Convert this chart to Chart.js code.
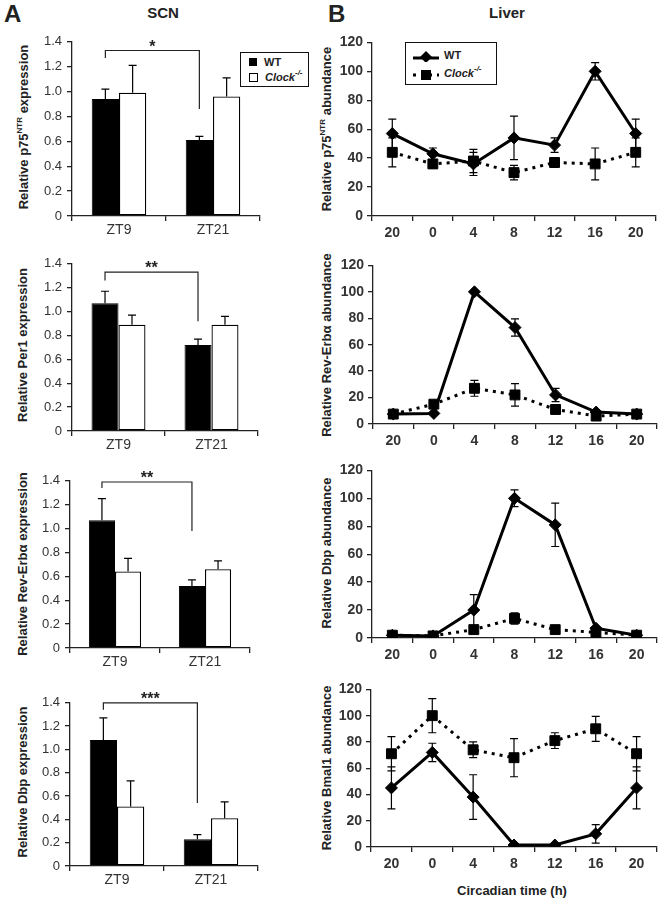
<!DOCTYPE html>
<html>
<head>
<meta charset="utf-8">
<script src="https://cdn.jsdelivr.net/npm/chart.js@4/dist/chart.umd.min.js"></script>
<style>
  html,body{margin:0;padding:0;background:#fff;}
  #fig{position:relative;width:665px;height:899px;background:#fff;overflow:hidden;
       font-family:"Liberation Sans",Arial,sans-serif;color:#222;}
  .box{position:absolute;}
  .txt{position:absolute;white-space:nowrap;font-weight:bold;}
  .ytitle{position:absolute;white-space:nowrap;font-weight:bold;font-size:13px;
          transform:translate(-50%,-50%) rotate(-90deg);}
  .ytitle sup,.leg sup{font-size:8px;vertical-align:6px;line-height:0;}
  .leg{position:absolute;border:1px solid #111;background:#fff;font-weight:bold;font-size:11px;}
  .row{position:absolute;display:flex;align-items:center;white-space:nowrap;}
</style>
</head>
<body>
<div id="fig">
  <div class="txt" style="left:4px;top:0px;font-size:24px;">A</div>
  <div class="txt" style="left:328px;top:0px;font-size:24px;">B</div>
  <div class="txt" style="left:163px;top:12px;font-size:15px;transform:translate(-50%,-50%);">SCN</div>
  <div class="txt" style="left:507px;top:12px;font-size:15px;transform:translate(-50%,-50%);">Liver</div>

  <div class="ytitle" style="left:23px;top:127px;">Relative p75<sup>NTR</sup> expression</div>
  <div class="ytitle" style="left:22px;top:345px;">Relative Per1 expression</div>
  <div class="ytitle" style="left:22px;top:564px;">Relative Rev-Erbα expression</div>
  <div class="ytitle" style="left:22px;top:782px;">Relative Dbp expression</div>
  <div class="ytitle" style="left:326px;top:129px;">Relative p75<sup>NTR</sup> abundance</div>
  <div class="ytitle" style="left:326px;top:345px;">Relative Rev-Erbα abundance</div>
  <div class="ytitle" style="left:326px;top:553px;">Relative Dbp abundance</div>
  <div class="ytitle" style="left:326px;top:768px;">Relative Bmal1 abundance</div>
  <div class="txt" style="left:512px;top:890px;font-size:13px;transform:translate(-50%,-50%);">Circadian time (h)</div>

  <div class="box" id="a1"><canvas></canvas></div>
  <div class="box" id="a2"><canvas></canvas></div>
  <div class="box" id="a3"><canvas></canvas></div>
  <div class="box" id="a4"><canvas></canvas></div>
  <div class="box" id="b1"><canvas></canvas></div>
  <div class="box" id="b2"><canvas></canvas></div>
  <div class="box" id="b3"><canvas></canvas></div>
  <div class="box" id="b4"><canvas></canvas></div>

  <div class="leg" style="left:240px;top:52px;width:67px;height:33px;">
    <div class="row" style="left:8px;top:3px;"><span style="display:inline-block;width:8px;height:8px;background:#000;margin-right:7px;"></span>WT</div>
    <div class="row" style="left:8px;top:18px;"><span style="display:inline-block;width:7px;height:7px;border:1px solid #000;background:#fff;margin-right:7px;"></span><i>Clock<sup>-/-</sup></i></div>
  </div>
  <div class="leg" style="left:405px;top:42px;width:90px;height:41px;">
    <div class="row" style="left:6px;top:5px;"><svg width="28" height="14" style="margin-right:4px"><line x1="1" y1="10" x2="27" y2="10" stroke="#000" stroke-width="3"/><polygon points="14,3 20,9 14,15 8,9" fill="#000"/></svg>WT</div>
    <div class="row" style="left:6px;top:23px;"><svg width="28" height="14" style="margin-right:4px"><line x1="1" y1="9" x2="27" y2="9" stroke="#000" stroke-width="3" stroke-dasharray="3,5"/><rect x="9" y="4" width="10" height="10" fill="#000"/></svg><i>Clock<sup>-/-</sup></i></div>
  </div>
</div>

<script>
// ---------- DATA ----------
const scnCategories = ['ZT9', 'ZT21'];
const scnYTicks = [0, 0.2, 0.4, 0.6, 0.8, 1, 1.2, 1.4];
const liverTimes = ['20', '0', '4', '8', '12', '16', '20'];
const liverYTicks = [0, 20, 40, 60, 80, 100, 120];

// SCN p75NTR
const scnP75WT = [0.94, 0.61];
const scnP75WTErr = [0.08, 0.03];
const scnP75KO = [0.99, 0.96];
const scnP75KOErr = [0.22, 0.15];
// SCN Per1
const scnPer1WT = [1.07, 0.72];
const scnPer1WTErr = [0.10, 0.05];
const scnPer1KO = [0.89, 0.89];
const scnPer1KOErr = [0.08, 0.07];
// SCN Rev-Erb alpha
const scnRevWT = [1.07, 0.52];
const scnRevWTErr = [0.18, 0.05];
const scnRevKO = [0.64, 0.66];
const scnRevKOErr = [0.11, 0.07];
// SCN Dbp
const scnDbpWT = [1.08, 0.23];
const scnDbpWTErr = [0.19, 0.04];
const scnDbpKO = [0.51, 0.41];
const scnDbpKOErr = [0.22, 0.14];

// significance brackets: [label, bracket level, left drop end, right drop end]
const sigLabels = ['*', '**', '**', '***'];
const sigLevel = [1.33, 1.33, 1.39, 1.40];
const sigLeftEnd = [1.27, 1.26, 1.34, 1.34];
const sigRightEnd = [0.86, 0.92, 0.98, 0.54];

// Liver p75NTR
const livP75WT = [57, 43, 36, 54, 49, 100, 57];
const livP75WTErr = [10, 4, 8, 15, 5, 6, 10];
const livP75KO = [44, 36, 38, 30, 37, 36, 44];
const livP75KOErr = [10, 3, 8, 5, 3, 11, 10];
// Liver Rev-Erb alpha
const livRevWT = [7.5, 8, 100, 73, 22, 9, 7.5];
const livRevWTErr = [1, 1, 1, 6.5, 5, 1, 1];
const livRevKO = [7.5, 15, 27, 22, 11, 6, 7.5];
const livRevKOErr = [1, 1, 6, 8.5, 2, 1, 1];
// Liver Dbp
const livDbpWT = [2, 1.5, 20, 100, 81, 7, 2];
const livDbpWTErr = [0.5, 0.5, 11, 6, 15.5, 1, 0.5];
const livDbpKO = [2, 1.5, 6, 14, 6, 4, 2];
const livDbpKOErr = [0.5, 0.5, 1, 4, 1, 1, 0.5];
// Liver Bmal1
const livBmalWT = [45, 72, 38, 1.5, 1.5, 10, 45];
const livBmalWTErr = [16, 7, 17, 0.5, 0.5, 7, 16];
const livBmalKO = [71, 100, 74, 68, 81, 90, 71];
const livBmalKOErr = [13, 13, 6, 14.5, 6, 9.5, 13];

// ---------- PLUGINS ----------
const errorBarsPlugin = {
  id: 'errorBars',
  afterDatasetsDraw(chart) {
    const ctx = chart.ctx, y = chart.scales.y;
    ctx.save();
    ctx.strokeStyle = '#000';
    ctx.lineWidth = 1.2;
    chart.data.datasets.forEach((ds, i) => {
      if (!ds.errors) return;
      const meta = chart.getDatasetMeta(i);
      const cap = ds.errorCap || 4;
      meta.data.forEach((el, j) => {
        const v = ds.data[j], e = ds.errors[j];
        if (!e) return;
        const x = el.x;
        const yt = y.getPixelForValue(v + e);
        const yb = ds.errorUpOnly ? y.getPixelForValue(v) : y.getPixelForValue(Math.max(0, v - e));
        ctx.beginPath();
        ctx.moveTo(x, yb); ctx.lineTo(x, yt);
        ctx.moveTo(x - cap, yt); ctx.lineTo(x + cap, yt);
        if (!ds.errorUpOnly) { ctx.moveTo(x - cap, yb); ctx.lineTo(x + cap, yb); }
        ctx.stroke();
      });
    });
    ctx.restore();
  }
};

const sigPlugin = {
  id: 'sigBracket',
  afterDatasetsDraw(chart, args, opts) {
    if (!opts || opts.label == null) return;
    const ctx = chart.ctx, y = chart.scales.y;
    const meta = chart.getDatasetMeta(0);
    const x1 = meta.data[0].x, x2 = meta.data[1].x;
    const yl = y.getPixelForValue(opts.level);
    ctx.save();
    ctx.strokeStyle = '#222';
    ctx.lineWidth = 1.2;
    ctx.beginPath();
    ctx.moveTo(x1, y.getPixelForValue(opts.leftEnd));
    ctx.lineTo(x1, yl);
    ctx.lineTo(x2, yl);
    ctx.lineTo(x2, y.getPixelForValue(opts.rightEnd));
    ctx.stroke();
    ctx.fillStyle = '#222';
    ctx.font = 'bold 16px "Liberation Sans", Arial, sans-serif';
    ctx.textAlign = 'center';
    ctx.textBaseline = 'alphabetic';
    ctx.fillText(opts.label, (x1 + x2) / 2, yl + 1);
    ctx.restore();
  }
};

// ---------- LAYOUT HELPERS ----------
const FONT = '"Liberation Sans", Arial, sans-serif';
function place(id, t, YW, XH, PT, PR) {
  const d = document.getElementById(id);
  d.style.left = (t.L - YW) + 'px';
  d.style.top = (t.T - PT) + 'px';
  d.style.width = (t.R - t.L + YW + PR) + 'px';
  d.style.height = (t.B - t.T + PT + XH) + 'px';
  return d.querySelector('canvas');
}

function barChart(id, t, wt, wtErr, ko, koErr, k) {
  const YW = 40, XH = 28, PT = 12, PR = 3;
  const cv = place(id, t, YW, XH, PT, PR);
  return new Chart(cv, {
    type: 'bar',
    data: {
      labels: scnCategories,
      datasets: [
        { label: 'WT', data: wt, errors: wtErr, errorUpOnly: true, errorCap: 4,
          backgroundColor: '#000', borderColor: '#000', borderWidth: 1,
          categoryPercentage: 0.58, barPercentage: 1 },
        { label: 'Clock-/-', data: ko, errors: koErr, errorUpOnly: true, errorCap: 4,
          backgroundColor: '#fff', borderColor: '#000', borderWidth: 1.3, borderSkipped: false,
          categoryPercentage: 0.58, barPercentage: 1 }
      ]
    },
    options: {
      responsive: true, maintainAspectRatio: false, animation: false,
      layout: { padding: { top: PT, right: PR, left: 0, bottom: 0 } },
      plugins: {
        legend: { display: false }, tooltip: { enabled: false },
        sigBracket: { label: sigLabels[k], level: sigLevel[k], leftEnd: sigLeftEnd[k], rightEnd: sigRightEnd[k] }
      },
      scales: {
        x: {
          offset: true,
          grid: { drawOnChartArea: false, offset: true, tickLength: 5, color: '#222', lineWidth: 1.3 },
          border: { color: '#222', width: 1.3 },
          ticks: { font: { family: FONT, size: 14 }, color: '#333', padding: 1 },
          afterFit(s) { s.height = XH; }
        },
        y: {
          min: 0, max: 1.4,
          afterBuildTicks(s) { s.ticks = scnYTicks.map(v => ({ value: v })); },
          grid: { drawOnChartArea: false, tickLength: 5, color: '#222', lineWidth: 1.3 },
          border: { color: '#222', width: 1.3 },
          ticks: { font: { family: FONT, size: 13 }, color: '#333', padding: 5 },
          afterFit(s) { s.width = YW; }
        }
      }
    },
    plugins: [errorBarsPlugin, sigPlugin]
  });
}

function lineChart(id, t, wt, wtErr, ko, koErr) {
  const YW = 40, XH = 28, PT = 12, PR = 2;
  const cv = place(id, t, YW, XH, PT, PR);
  return new Chart(cv, {
    type: 'line',
    data: {
      labels: liverTimes,
      datasets: [
        { label: 'WT', data: wt, errors: wtErr, errorCap: 4, order: 1,
          borderColor: '#000', borderWidth: 3, tension: 0,
          pointStyle: 'rectRot', pointRadius: 6, pointBackgroundColor: '#000', pointBorderColor: '#000', pointBorderWidth: 1 },
        { label: 'Clock-/-', data: ko, errors: koErr, errorCap: 4, order: 0,
          borderColor: '#000', borderWidth: 3, borderDash: [3, 5], tension: 0,
          pointStyle: 'rect', pointRadius: 7, pointBackgroundColor: '#000', pointBorderColor: '#000', pointBorderWidth: 1 }
      ]
    },
    options: {
      responsive: true, maintainAspectRatio: false, animation: false,
      layout: { padding: { top: PT, right: PR, left: 0, bottom: 0 } },
      plugins: { legend: { display: false }, tooltip: { enabled: false } },
      scales: {
        x: {
          offset: true,
          grid: { drawOnChartArea: false, offset: true, tickLength: 5, color: '#222', lineWidth: 1.3 },
          border: { color: '#222', width: 1.3 },
          ticks: { font: { family: FONT, size: 14, weight: 'bold' }, color: '#333', padding: 4 },
          afterFit(s) { s.height = XH; }
        },
        y: {
          min: 0, max: 120,
          afterBuildTicks(s) { s.ticks = liverYTicks.map(v => ({ value: v })); },
          grid: { drawOnChartArea: false, tickLength: 5, color: '#222', lineWidth: 1.3 },
          border: { color: '#222', width: 1.3 },
          ticks: { font: { family: FONT, size: 14, weight: 'bold' }, color: '#333', padding: 4 },
          afterFit(s) { s.width = YW; }
        }
      }
    },
    plugins: [errorBarsPlugin]
  });
}

barChart('a1', { L: 72, T: 41, R: 260, B: 216 }, scnP75WT, scnP75WTErr, scnP75KO, scnP75KOErr, 0);
barChart('a2', { L: 72, T: 263, R: 258, B: 431 }, scnPer1WT, scnPer1WTErr, scnPer1KO, scnPer1KOErr, 1);
barChart('a3', { L: 70, T: 480, R: 250, B: 648 }, scnRevWT, scnRevWTErr, scnRevKO, scnRevKOErr, 2);
barChart('a4', { L: 70, T: 702, R: 258, B: 866 }, scnDbpWT, scnDbpWTErr, scnDbpKO, scnDbpKOErr, 3);

lineChart('b1', { L: 372, T: 42, R: 662, B: 216 }, livP75WT, livP75WTErr, livP75KO, livP75KOErr);
lineChart('b2', { L: 373, T: 265, R: 663, B: 424 }, livRevWT, livRevWTErr, livRevKO, livRevKOErr);
lineChart('b3', { L: 372, T: 470, R: 663, B: 638 }, livDbpWT, livDbpWTErr, livDbpKO, livDbpKOErr);
lineChart('b4', { L: 371, T: 689, R: 663, B: 847 }, livBmalWT, livBmalWTErr, livBmalKO, livBmalKOErr);
</script>
</body>
</html>
